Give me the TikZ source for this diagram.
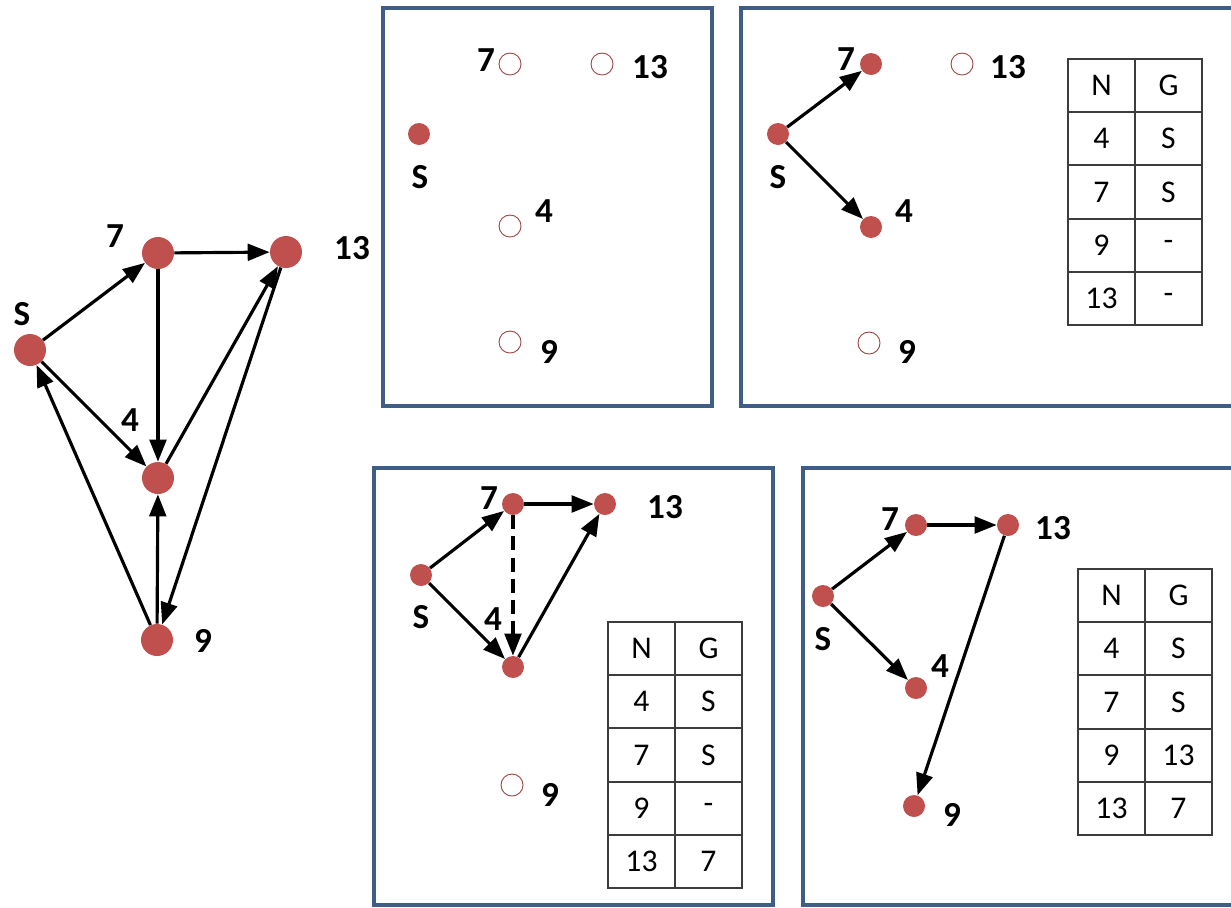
\documentclass[tikz,border=0pt]{standalone}
\usepackage{fontspec}
\setmainfont{Carlito}
\usepackage{tikz}
\usetikzlibrary{arrows.meta, positioning}
\usepackage{xcolor}
\definecolor{nodered}{RGB}{192,80,77}
\definecolor{frameblue}{RGB}{62,94,136}
\definecolor{gridgray}{RGB}{60,60,60}

\begin{document}
\begin{tikzpicture}[x=0.02cm, y=-0.02cm,
  bigdot/.style={circle, fill=nodered, minimum size=0.64cm, inner sep=0pt},
  dot/.style={circle, fill=nodered, minimum size=0.44cm, inner sep=0pt},
  hole/.style={circle, draw=nodered!80!black, line width=0.5pt, fill=white, minimum size=0.44cm, inner sep=0pt},
  lbl/.style={font=\fontsize{20}{22}\selectfont\bfseries, inner sep=0pt},
  cell/.style={font=\fontsize{18}{20}\selectfont, inner sep=0pt},
  link/.style={-{Triangle[length=12.5pt,width=9.5pt]}, line width=1.8pt},
  panel/.style={frameblue, line width=1.8pt},
  grid/.style={gridgray, line width=0.9pt}]
  \useasboundingbox (0,0) rectangle (1231,907);
  \clip (0,0) rectangle (1231,907);

  % whole graph
  \node[bigdot] (g-S) at (30,350) {};
  \node[bigdot] (g-7) at (158,253) {};
  \node[bigdot] (g-13) at (286,252) {};
  \node[bigdot] (g-4) at (158,478) {};
  \node[bigdot] (g-9) at (157,640) {};
  \node[lbl] (gl-S) at (22,314) {S};
  \node[lbl] (gl-7) at (115,236) {7};
  \node[lbl] (gl-13) at (352,248) {13};
  \node[lbl] (gl-4) at (130,420) {4};
  \node[lbl] (gl-9) at (203,641) {9};
  \draw[link] (g-S) -- (g-7);
  \draw[link] (g-7) -- (g-13);
  \draw[link] (g-7) -- (g-4);
  \draw[link] (g-S) -- (g-4);
  \draw[link] (g-4) -- (g-13);
  \draw[link] (g-13) -- (g-9);
  \draw[link] (g-9) -- (g-4);
  \draw[link] (g-9) -- (g-S);

  % step 0
  \draw[panel] (383,8) rectangle (712,406);
  \node[dot] (a-S) at (419,134) {};
  \node[hole] (a-7) at (510,64) {};
  \node[hole] (a-13) at (602,64) {};
  \node[hole] (a-4) at (510,226) {};
  \node[hole] (a-9) at (510,342) {};
  \node[lbl] (al-7) at (486,60) {7};
  \node[lbl] (al-13) at (650,67) {13};
  \node[lbl] (al-S) at (420,177) {S};
  \node[lbl] (al-4) at (544,211) {4};
  \node[lbl] (al-9) at (549,352) {9};

  % step 1
  \draw[panel] (1240,8) -- (741,8) -- (741,406) -- (1240,406);
  \node[dot] (b-S) at (778,134) {};
  \node[dot] (b-7) at (871,64) {};
  \node[hole] (b-13) at (962,64) {};
  \node[dot] (b-4) at (871,227) {};
  \node[hole] (b-9) at (869,343) {};
  \node[lbl] (bl-7) at (846,59) {7};
  \node[lbl] (bl-13) at (1008,67) {13};
  \node[lbl] (bl-S) at (778,177) {S};
  \node[lbl] (bl-4) at (904,211) {4};
  \node[lbl] (bl-9) at (907,352) {9};
  \draw[link] (b-S) -- (b-7);
  \draw[link] (b-S) -- (b-4);
  \begin{scope}[shift={(1068,59)}]
    \draw[grid] (0,0) rectangle (134,266) (67,0) -- (67,266);
    \foreach \y in {53,106,160,213} \draw[grid] (0,\y) -- (134,\y);
    \foreach \n/\g [count=\i] in {N/G,4/S,7/S,9/-,13/-} {
      \node[cell] (b-n\i) at (33.5,{(\i-0.5)*53.2}) {\n};
      \node[cell] (b-g\i) at (100.5,{(\i-0.5)*53.2}) {\g};
    }
  \end{scope}

  % step 2
  \draw[panel] (374,468) rectangle (773,905);
  \node[dot] (c-S) at (421,575) {};
  \node[dot] (c-7) at (513,504) {};
  \node[dot] (c-13) at (605,504) {};
  \node[dot] (c-4) at (513,667) {};
  \node[hole] (c-9) at (512,785) {};
  \node[lbl] (cl-7) at (489,498) {7};
  \node[lbl] (cl-13) at (665,507) {13};
  \node[lbl] (cl-S) at (421,617) {S};
  \node[lbl] (cl-4) at (493,619) {4};
  \node[lbl] (cl-9) at (550,795) {9};
  \draw[link] (c-S) -- (c-7);
  \draw[link] (c-S) -- (c-4);
  \draw[link] (c-7) -- (c-13);
  \draw[link] (c-4) -- (c-13);
  \draw[link, dash pattern=on 8pt off 4pt] (c-7) -- (c-4);
  \begin{scope}[shift={(608,622)}]
    \draw[grid] (0,0) rectangle (134,266) (67,0) -- (67,266);
    \foreach \y in {53,106,160,213} \draw[grid] (0,\y) -- (134,\y);
    \foreach \n/\g [count=\i] in {N/G,4/S,7/S,9/-,13/7} {
      \node[cell] (c-n\i) at (33.5,{(\i-0.5)*53.2}) {\n};
      \node[cell] (c-g\i) at (100.5,{(\i-0.5)*53.2}) {\g};
    }
  \end{scope}

  % step 3
  \draw[panel] (1240,468) -- (803,468) -- (803,905) -- (1240,905);
  \node[dot] (d-S) at (823,596) {};
  \node[dot] (d-7) at (916,525) {};
  \node[dot] (d-13) at (1008,525) {};
  \node[dot] (d-4) at (916,688) {};
  \node[dot] (d-9) at (914,806) {};
  \node[lbl] (dl-7) at (890,519) {7};
  \node[lbl] (dl-13) at (1053,528) {13};
  \node[lbl] (dl-S) at (823,639) {S};
  \node[lbl] (dl-4) at (940,666) {4};
  \node[lbl] (dl-9) at (952,815) {9};
  \draw[link] (d-S) -- (d-7);
  \draw[link] (d-S) -- (d-4);
  \draw[link] (d-7) -- (d-13);
  \draw[link] (d-13) -- (d-9);
  \begin{scope}[shift={(1078,569)}]
    \draw[grid] (0,0) rectangle (134,266) (67,0) -- (67,266);
    \foreach \y in {53,106,160,213} \draw[grid] (0,\y) -- (134,\y);
    \foreach \n/\g [count=\i] in {N/G,4/S,7/S,9/13,13/7} {
      \node[cell] (d-n\i) at (33.5,{(\i-0.5)*53.2}) {\n};
      \node[cell] (d-g\i) at (100.5,{(\i-0.5)*53.2}) {\g};
    }
  \end{scope}
\end{tikzpicture}
\end{document}
